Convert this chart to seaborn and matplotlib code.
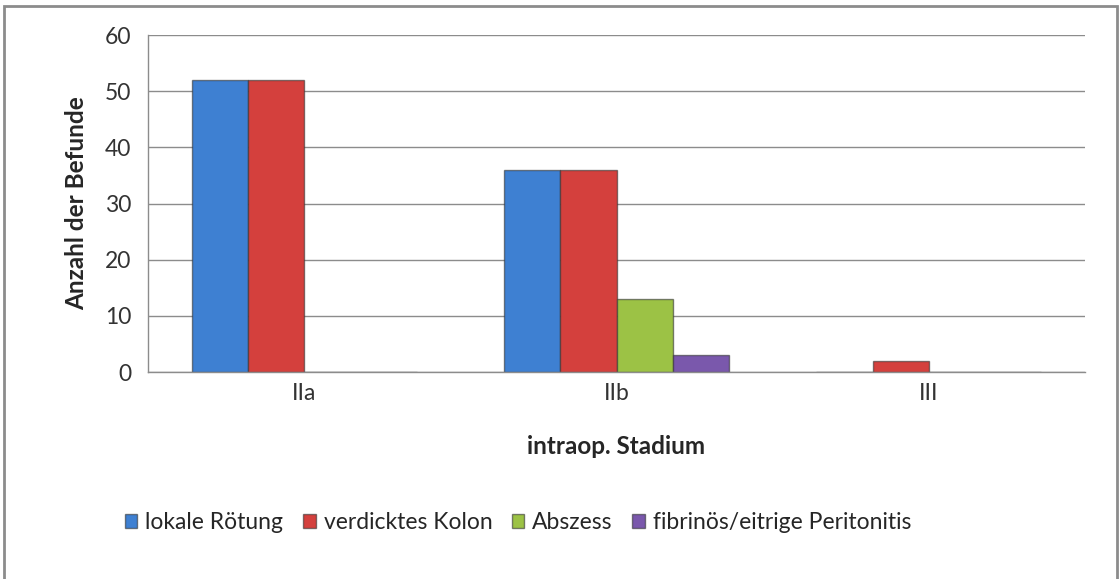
import numpy as np
import pandas as pd
import seaborn as sns
import matplotlib.pyplot as plt
from matplotlib.patches import Rectangle

# Daten
stadien = ["IIa", "IIb", "III"]
befunde = ["lokale Rötung", "verdicktes Kolon", "Abszess", "fibrinös/eitrige Peritonitis"]
lokale_roetung = [52, 36, 0]
verdicktes_kolon = [52, 36, 2]
abszess = [0, 13, 0]
peritonitis = [0, 3, 0]
farben = ["#3e80d2", "#d4403d", "#9cc245", "#7a58ac"]

werte = [lokale_roetung, verdicktes_kolon, abszess, peritonitis]
rows = []
for b, w in zip(befunde, werte):
    for s, v in zip(stadien, w):
        rows.append({"Stadium": s, "Befund": b, "Anzahl": v})
df = pd.DataFrame(rows)

sns.set_style("white")
plt.rcParams['font.family'] = ['Lato', 'DejaVu Sans']

fig = plt.figure(figsize=(11.19, 5.79), dpi=100)
ax = fig.add_axes([0.1323, 0.3575, 0.8373, 0.582])

sns.barplot(data=df, x="Stadium", y="Anzahl", hue="Befund", palette=farben,
            saturation=1, width=0.72, gap=0, ax=ax, edgecolor="#33333399",
            linewidth=1.0, legend=True)
ax.set_axisbelow(True)

ax.set_ylim(0, 60)
ax.set_yticks(np.arange(0, 61, 10))
ax.yaxis.grid(True, color="#8c8c8c", linewidth=1)
ax.set_xlim(-0.5, 2.5)
ax.set_xticks([0, 1, 2])
ax.set_xticks([-0.5, 0.5, 1.5, 2.5], minor=True)
ax.tick_params(axis="x", which="major", length=0, labelsize=16.5, pad=8)
ax.tick_params(axis="x", which="minor", length=6, color="#8c8c8c", width=1, direction="out")
ax.tick_params(axis="y", length=6, color="#8c8c8c", width=1, direction="out", labelsize=16.5, pad=6)
for t in ax.get_xticklabels() + ax.get_yticklabels():
    t.set_color("#333333")

for side in ["top", "right"]:
    ax.spines[side].set_visible(False)
for side in ["left", "bottom"]:
    ax.spines[side].set_color("#8c8c8c")
    ax.spines[side].set_linewidth(1)

ax.set_xlabel("intraop. Stadium", fontsize=17.5, fontweight="bold", labelpad=22)
ax.set_ylabel("Anzahl der Befunde", fontsize=17.5, fontweight="bold", labelpad=12)

ax.legend(loc="center", bbox_to_anchor=(0.463, 0.098), bbox_transform=fig.transFigure,
          ncol=4, frameon=False, fontsize=16.5, handlelength=0.55, handleheight=0.55,
          handletextpad=0.35, columnspacing=0.85)

fig.patches.append(Rectangle((0.004, -0.01), 0.994, 1.0, transform=fig.transFigure,
                             fill=False, edgecolor="#8c8c8c", linewidth=2))

fig.savefig("out.png", dpi=100)
